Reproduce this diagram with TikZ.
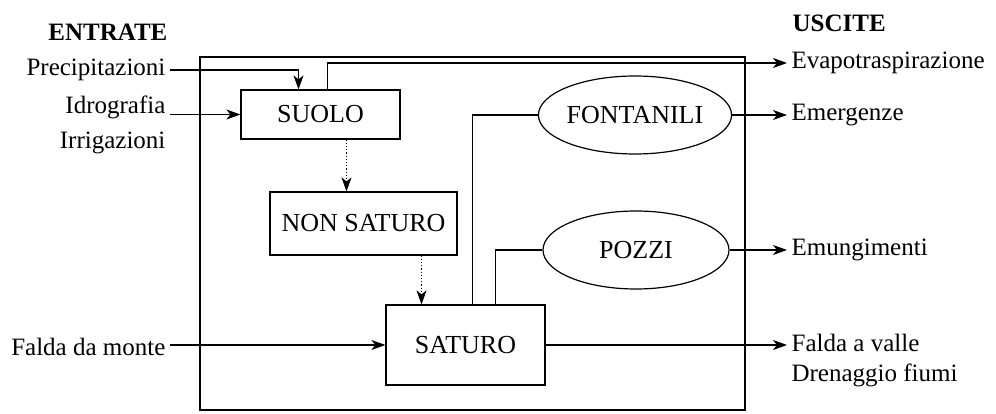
\documentclass[tikz,border=0pt]{standalone}
\usepackage{fontspec}
\setmainfont{Liberation Serif}
\usetikzlibrary{shapes.geometric,arrows.meta}
\tikzset{
  box/.style={draw,rectangle,inner sep=0pt},
  pool/.style={draw,ellipse,inner sep=0pt,minimum width=186pt,minimum height=78pt},
  lbl/.style={inner sep=4pt,text height=17pt,text depth=6pt},
}
\begin{document}
\begin{tikzpicture}[x=1pt,y=-1pt,>={Stealth[length=14pt,width=10pt,inset=4pt]},line width=1.2pt,font=\fontsize{25}{30}\selectfont]
\useasboundingbox (0,0) rectangle (996,414);
\draw (200,57) rectangle (745,410);

\node[lbl,anchor=base east] (entrate) at (172,41) {\bfseries ENTRATE};
\node[lbl,anchor=base west] (uscite) at (788,32) {\bfseries USCITE};

\node[box,minimum width=159pt,minimum height=49pt,font=\fontsize{26}{30}\selectfont] (suolo) at (320.5,114.5) {SUOLO};
\node[box,minimum width=187pt,minimum height=63pt,font=\fontsize{26}{30}\selectfont] (nonsat) at (363.5,223.5) {NON SATURO};
\node[box,minimum width=159pt,minimum height=80pt,font=\fontsize{26}{30}\selectfont] (saturo) at (465.5,345) {SATURO};
\node[pool,font=\fontsize{26}{30}\selectfont] (fontanili) at (635,115) {FONTANILI};
\node[pool,font=\fontsize{26}{30}\selectfont] (pozzi) at (636,250) {POZZI};

% entrate
\node[lbl,anchor=east] (prec) at (170,70) {Precipitazioni};
\node[lbl,anchor=east] (idro) at (170,108) {Idrografia};
\node[lbl,anchor=east] (irri) at (170,143) {Irrigazioni};
\node[lbl,anchor=east] (monte) at (170,350) {Falda da monte};

% uscite
\node[lbl,anchor=west] (evapo) at (787,63) {Evapotraspirazione};
\node[lbl,anchor=west] (emerg) at (787,115) {Emergenze};
\node[lbl,anchor=west] (emung) at (787,250) {Emungimenti};
\node[lbl,anchor=west] (valle) at (787,346) {Falda a valle};
\node[lbl,anchor=west] (drena) at (787,376) {Drenaggio fiumi};

\draw[->] (prec.east) -| ([xshift=-22pt]suolo.north);
\draw[->] (idro.east |- suolo.west) -- (suolo.west);
\draw[->] (monte.east |- saturo.west) -- (saturo.west);
\draw[->] ([xshift=7pt]suolo.north) |- (evapo.west);

\draw[->,dotted] ([xshift=26pt]suolo.south) -- ([xshift=26pt]suolo.south |- nonsat.north);
\draw[->,dotted] ([xshift=58pt]nonsat.south) -- ([xshift=58pt]nonsat.south |- saturo.north);

\draw (fontanili.west) -| ([xshift=7pt]saturo.north);
\draw (pozzi.west) -| ([xshift=30pt]saturo.north);

\draw[->] (fontanili.east) -- (emerg.west);
\draw[->] (pozzi.east) -- (emung.west);
\draw[->] (saturo.east) -- (saturo.east -| valle.west);
\end{tikzpicture}
\end{document}
